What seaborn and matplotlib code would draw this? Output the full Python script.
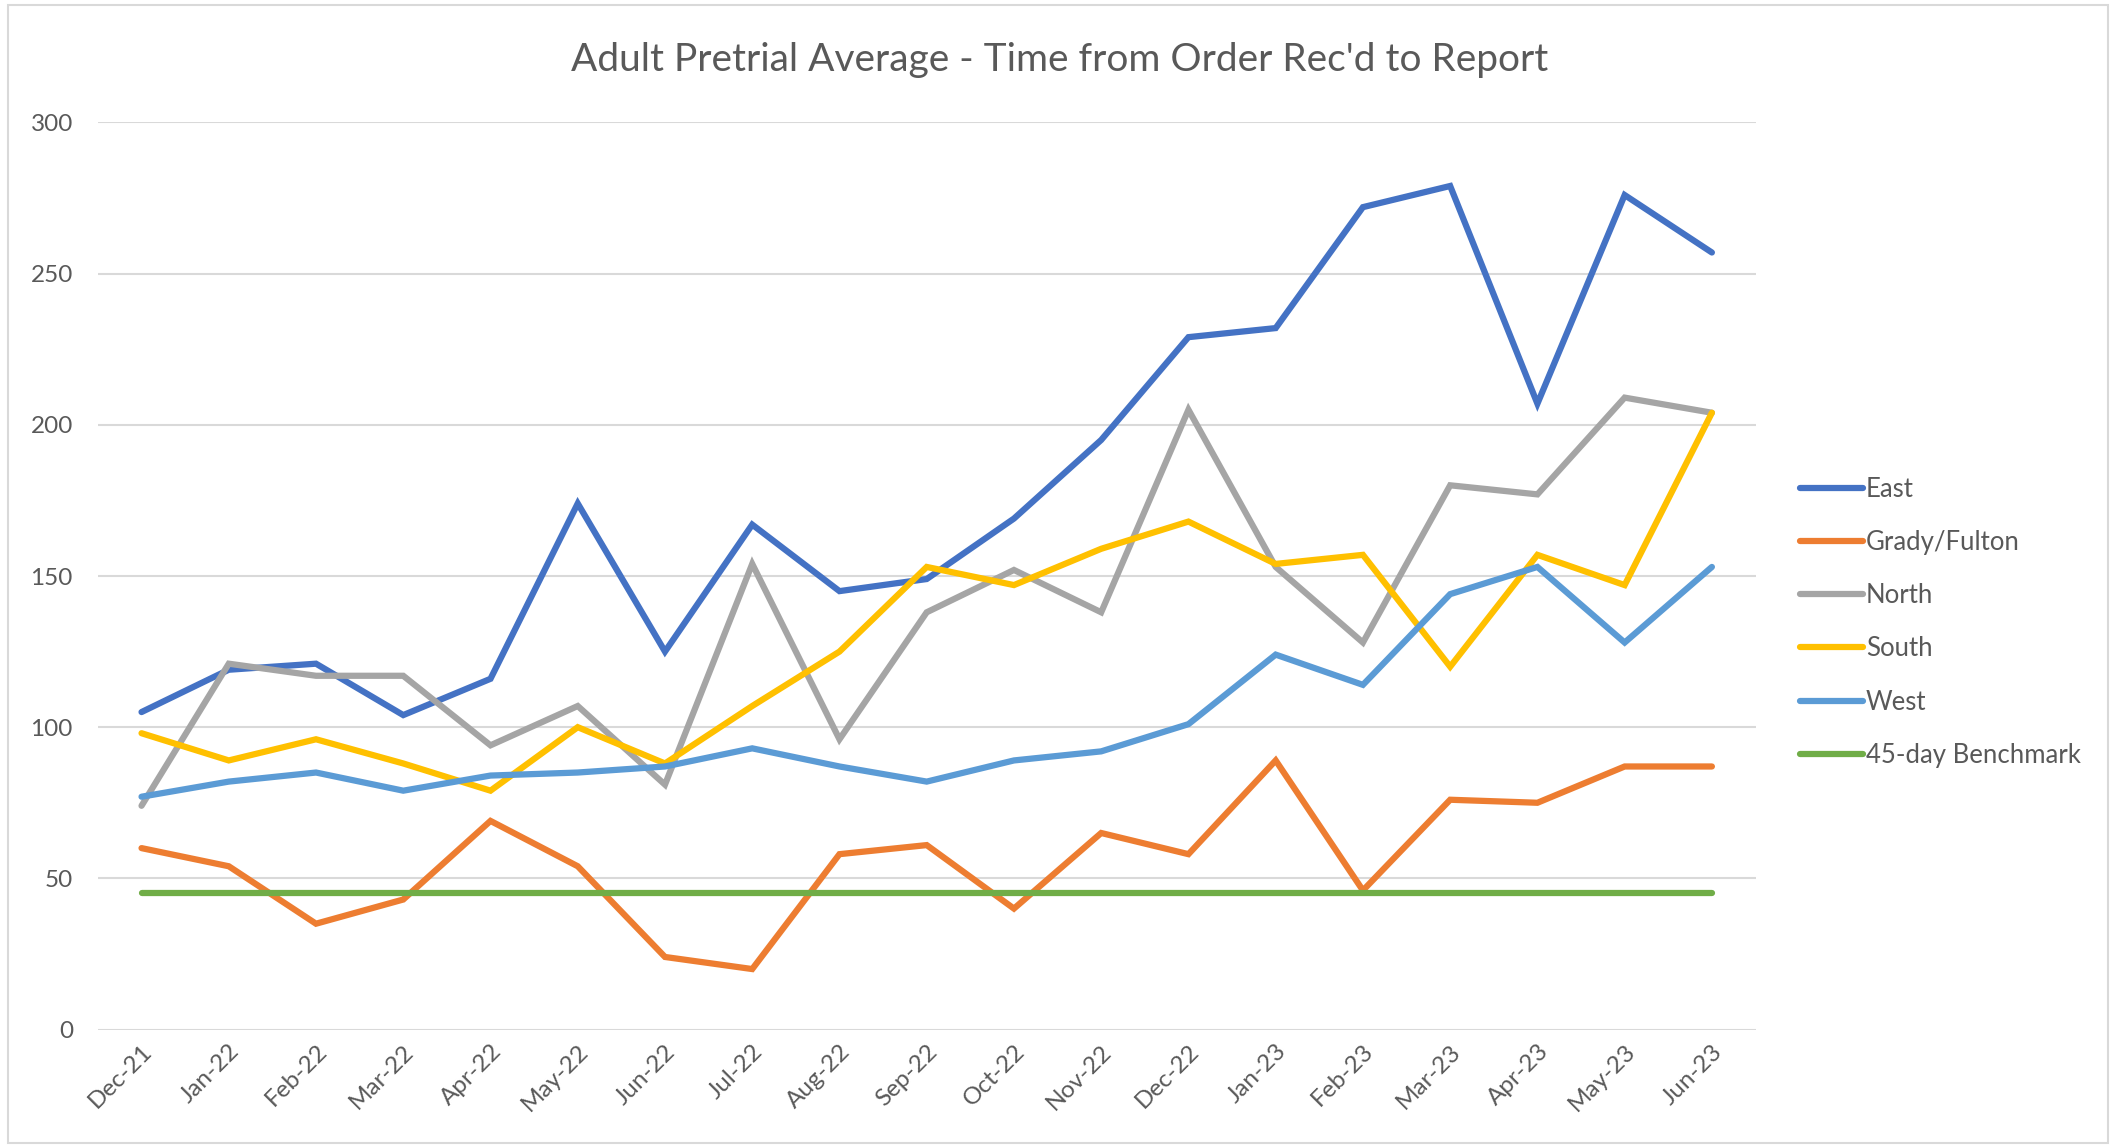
import matplotlib
matplotlib.use("Agg")
import matplotlib.pyplot as plt
import seaborn as sns
import pandas as pd
from matplotlib.patches import Rectangle

months = ["Dec-21", "Jan-22", "Feb-22", "Mar-22", "Apr-22", "May-22", "Jun-22", "Jul-22",
          "Aug-22", "Sep-22", "Oct-22", "Nov-22", "Dec-22", "Jan-23", "Feb-23", "Mar-23",
          "Apr-23", "May-23", "Jun-23"]
east = [105, 119, 121, 104, 116, 174, 125, 167, 145, 149, 169, 195, 229, 232, 272, 279, 207, 276, 257]
grady = [60, 54, 35, 43, 69, 54, 24, 20, 58, 61, 40, 65, 58, 89, 46, 76, 75, 87, 87]
north = [74, 121, 117, 117, 94, 107, 81, 154, 96, 138, 152, 138, 205, 153, 128, 180, 177, 209, 204]
south = [98, 89, 96, 88, 79, 100, 88, 107, 125, 153, 147, 159, 168, 154, 157, 120, 157, 147, 204]
west = [77, 82, 85, 79, 84, 85, 87, 93, 87, 82, 89, 92, 101, 124, 114, 144, 153, 128, 153]
benchmark = [45] * len(months)

series_names = ["East", "Grady/Fulton", "North", "South", "West", "45-day Benchmark"]
series_values = [east, grady, north, south, west, benchmark]
colors = ["#4472C4", "#ED7D31", "#A5A5A5", "#FFC000", "#5B9BD5", "#70AD47"]

rows = []
for name, vals in zip(series_names, series_values):
    for i, (m, v) in enumerate(zip(months, vals)):
        rows.append({"idx": i, "month": m, "value": v, "series": name})
df = pd.DataFrame(rows)

sns.set_theme(style="white")
plt.rcParams["font.family"] = ["Lato", "DejaVu Sans"]
text_color = "#595959"

fig = plt.figure(figsize=(21.1, 11.48), dpi=100)
ax = fig.add_axes([0.0464, 0.1032, 0.832 - 0.0464, 0.8933 - 0.1032])

sns.lineplot(data=df, x="idx", y="value", hue="series", hue_order=series_names,
             palette=colors, linewidth=4.5, ax=ax, legend=True, sort=False)
for line in ax.get_lines():
    line.set_solid_capstyle("round")
    line.set_solid_joinstyle("miter")

ax.set_xlim(-0.5, len(months) - 0.5)
ax.set_ylim(0, 300)
ax.set_yticks([0, 50, 100, 150, 200, 250, 300])
ax.set_xticks(range(len(months)))
ax.set_xticklabels(months, rotation=45, ha="right", rotation_mode="anchor")
ax.tick_params(axis="x", colors=text_color, labelsize=17.5, length=0, pad=8)
ax.tick_params(axis="y", colors=text_color, labelsize=17.5, length=0, pad=18)
ax.grid(axis="y", color="#D9D9D9", linewidth=1.5)
ax.set_axisbelow(True)
for s in ax.spines.values():
    s.set_visible(False)
ax.set_xlabel("")
ax.set_ylabel("")

handles, labels = ax.get_legend_handles_labels()
ax.get_legend().remove()
leg = fig.legend(handles, labels, loc="center left", bbox_to_anchor=(0.853, 0.458),
                 frameon=False, fontsize=18.5, handlelength=2.45, handletextpad=0.12,
                 labelspacing=1.1, borderpad=0, borderaxespad=0)
for t in leg.get_texts():
    t.set_color(text_color)
for h in leg.get_lines():
    h.set_linewidth(4.5)
    h.set_solid_capstyle("round")

fig.text(0.502, 0.948, "Adult Pretrial Average - Time from Order Rec'd to Report",
         ha="center", va="center", fontsize=28, color=text_color)

fig.patches.append(Rectangle((0.004, 0.004), 0.995, 0.992, transform=fig.transFigure,
                             fill=False, edgecolor="#D9D9D9", linewidth=1.5))

fig.savefig("out.png", dpi=100)
